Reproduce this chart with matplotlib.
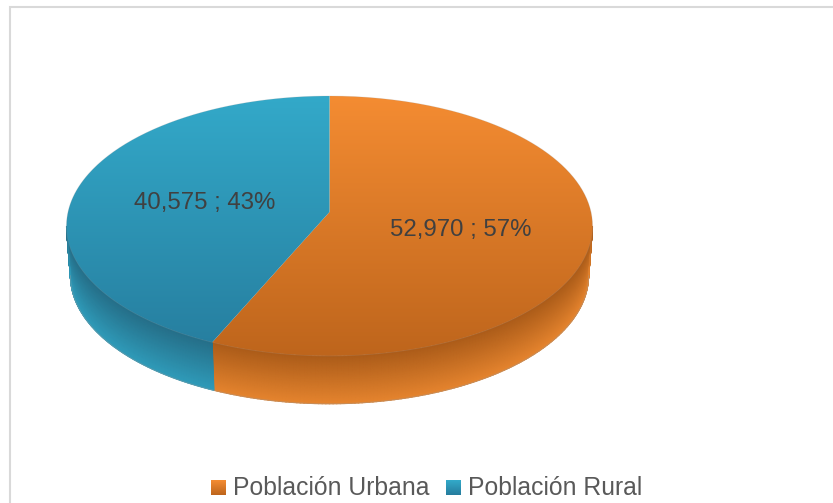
import numpy as np
import matplotlib
matplotlib.use("Agg")
import matplotlib.pyplot as plt
from matplotlib.colors import LinearSegmentedColormap
from matplotlib.patches import PathPatch
from matplotlib.path import Path

plt.rcParams["font.family"] = ["Liberation Sans", "DejaVu Sans"]

categories = ["Población Urbana", "Población Rural"]
values = [52970, 40575]
top_colors = [("#F48C32", "#BE651C"), ("#33A9C9", "#267D9E")]
side_colors = [("#AC5C19", "#E5842E"), ("#256F89", "#2F9BB9")]

# pie geometry, in pixels of the 833x503 picture
cx, cy = 329.5, 212
rx, ry = 261.5, 128.5
persp = 0.1076
depth_cy = 262
depth_scale = 0.985


def project(theta, center_y=cy, scale=1.0):
    u, v = np.cos(theta), np.sin(theta)
    w = 1 + persp * v
    return cx + scale * rx * u / w, center_y - scale * ry * v / w


def top_face(ax, a, b, colors):
    theta = np.linspace(a, b, 200)
    x, y = project(theta)
    verts = np.column_stack([np.r_[cx, x, cx], np.r_[cy, y, cy]])
    patch = PathPatch(Path(verts), facecolor="none", edgecolor="none", zorder=3)
    ax.add_patch(patch)
    cmap = LinearSegmentedColormap.from_list("top", colors)
    grad = np.linspace(0, 1, 256).reshape(-1, 1)
    im = ax.imshow(grad, cmap=cmap, extent=(60, 600, 356, 96), aspect="auto", zorder=3)
    im.set_clip_path(patch)


def side_face(ax, a, b, colors):
    theta = np.linspace(a, b, 150)
    t = np.linspace(0, 1, 40)
    x0, y0 = project(theta)
    x1, y1 = project(theta, depth_cy, depth_scale)
    xx = np.outer(1 - t, x0) + np.outer(t, x1)
    yy = np.outer(1 - t, y0) + np.outer(t, y1)
    cc = np.outer(t, np.ones_like(theta))
    cmap = LinearSegmentedColormap.from_list("side", colors)
    ax.pcolormesh(xx, yy, cc, cmap=cmap, shading="gouraud", zorder=2)
    ax.plot(x1, y1, color="#999999", lw=0.7, alpha=0.4, zorder=2)


fig = plt.figure(figsize=(8.33, 5.03), dpi=100)
ax = fig.add_axes([0, 0, 1, 1])

# slices start at 12 o'clock and run clockwise
total = sum(values)
sweeps = [2 * np.pi * v / total for v in values]
start = np.pi / 2
split = start - sweeps[0]
end = split - sweeps[1]
edge = np.arcsin(persp)

# sides only show on the near half
side_face(ax, -edge, split, side_colors[0])
side_face(ax, split, -np.pi + edge, side_colors[1])

top_face(ax, start, split, top_colors[0])
top_face(ax, split, end, top_colors[1])

theta = np.linspace(0, 2 * np.pi, 500)
ax.plot(*project(theta), color="#999999", lw=0.6, alpha=0.2, zorder=3)

label_pos = [(460.5, 236), (204.8, 209)]
for v, pos in zip(values, label_pos):
    pct = round(100 * v / total)
    ax.text(pos[0], pos[1], f"{v:,} ; {pct}%", ha="center", va="baseline",
            fontsize=17.3, color="#404040", zorder=5)

# legend
swatch_x = [211, 446]
text_x = [233.5, 468.5]
for i, name in enumerate(categories):
    cmap = LinearSegmentedColormap.from_list("sw", top_colors[i])
    ax.imshow(np.linspace(0, 1, 32).reshape(-1, 1), cmap=cmap, aspect="auto", zorder=4,
              extent=(swatch_x[i], swatch_x[i] + 15, 495, 480))
    ax.text(text_x[i], 494.7, name, ha="left", va="baseline", fontsize=17.85, color="#595959", zorder=5)

# chart frame, only the left and top edges fall inside the picture
ax.plot([10, 10, 833], [503, 7, 7], color="#D9D9D9", lw=1.5, zorder=1, solid_joinstyle="miter")

ax.set_xlim(0, 833)
ax.set_ylim(503, 0)
ax.axis("off")

fig.savefig("out.png", dpi=100, facecolor="white")
